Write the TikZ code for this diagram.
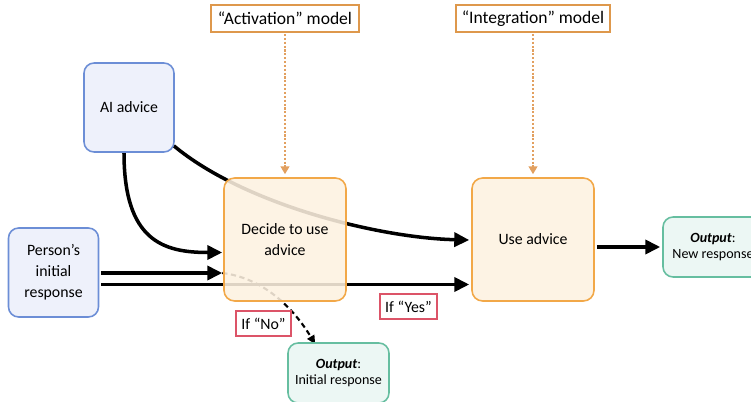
\documentclass[tikz,border=0pt]{standalone}
\usepackage{fontspec}
\setmainfont{Carlito}
\usetikzlibrary{arrows.meta,calc}
\pgfdeclarelayer{bg}
\pgfsetlayers{bg,main}

\definecolor{inblue}{RGB}{108,142,214}
\definecolor{infill}{RGB}{238,241,251}
\definecolor{steporange}{RGB}{242,168,72}
\definecolor{stepfill}{RGB}{253,241,224}
\definecolor{outteal}{RGB}{102,190,160}
\definecolor{outfill}{RGB}{236,247,244}
\definecolor{modelorange}{RGB}{222,152,76}
\definecolor{hintorange}{RGB}{226,160,96}
\definecolor{ifred}{RGB}{220,84,104}

\tikzset{
	inbox/.style={draw=inblue, fill=infill, line width=0.9pt, rounded corners=5.7pt, minimum width=1.8cm, minimum height=1.78cm, inner sep=0pt, align=center, font=\fontsize{9}{12}\selectfont},
	stepbox/.style={draw=steporange, fill=stepfill, fill opacity=0.88, text opacity=1, line width=0.9pt, rounded corners=6pt, minimum width=2.44cm, minimum height=2.46cm, inner sep=0pt, align=center, font=\fontsize{9}{12}\selectfont},
	outbox/.style={draw=outteal, fill=outfill, line width=0.9pt, rounded corners=5.7pt, minimum width=2cm, minimum height=1.2cm, inner sep=0pt, align=center, font=\fontsize{8}{9.5}\selectfont},
	modelbox/.style={draw=modelorange, fill=white, line width=1.1pt, minimum height=0.54cm, inner sep=0pt, font=\fontsize{10}{12}\selectfont},
	ifbox/.style={draw=ifred, fill=white, line width=1.1pt, minimum height=0.5cm, inner sep=0pt, font=\fontsize{9}{11}\selectfont},
	flow/.style={line width=2pt, -{Triangle[length=8.5pt,width=8pt]}},
	hint/.style={draw=hintorange, line width=1pt, dash pattern=on 1.2pt off 1pt, -{Triangle[length=4.5pt,width=5pt]}},
	nopath/.style={line width=1.2pt, densely dashed, -{Triangle[length=5pt,width=4.5pt]}}
}

\begin{document}
\begin{tikzpicture}[x=0.02cm, y=-0.02cm]
			\useasboundingbox (0,0) rectangle (751,402);
			\node[inbox] (ai) at (129,107.5) {AI advice};
			\node[inbox] (person) at (53.5,272.5) {Person’s\\initial\\response};
			\node[stepbox] (decide) at (285,239.5) {Decide to use\\advice};
			\node[stepbox] (use) at (533,239.5) {Use advice};
			\node[outbox] (outnew) at (713,247) {\textbf{\textit{Output}}:\\New response};
			\node[outbox, minimum width=2.02cm] (outinit) at (338.5,373) {\textbf{\textit{Output}}:\\Initial response};
			\node[modelbox, minimum width=2.96cm] (actmodel) at (285,18.5) {“Activation” model};
			\node[modelbox, minimum width=3.08cm] (intmodel) at (533,18.5) {“Integration” model};
			\node[ifbox, minimum width=1.1cm] (ifno) at (263.5,323.5) {If “No”};
			\node[ifbox, minimum width=1.14cm] (ifyes) at (408.5,306.5) {If “Yes”};
			\coordinate (inA) at ($(decide.west)+(-1,33.5)$);
			\coordinate (inB) at ($(use.west)+(-2,45)$);
			\begin{pgfonlayer}{bg}
				\draw[hint] ($(actmodel.south)+(0,1)$) -- ($(decide.north)+(0,-3)$);
				\draw[hint] ($(intmodel.south)+(0,1)$) -- ($(use.north)+(0,-3)$);
				\draw[flow] ($(ai.south)+(-5,0)$) .. controls ($(ai.south)+(-5,88)$) and ($(decide.west)+(-60,13)$) .. ($(decide.west)+(-1,13)$);
				\draw[flow] ($(ai.south east)+(-1,-7)$) .. controls (245,205) and (380,238) .. ($(use.west)+(-2,0.5)$);
				\draw[flow] ($(person.east |- inA)+(2,0)$) -- (inA);
				\draw[flow] ($(person.east |- inB)+(2,0)$) -- (inB);
				\draw[flow] ($(use.east |- outnew.west)+(2,0)$) -- ($(outnew.west)+(-2,0)$);
				\draw[nopath] (inA) .. controls ($(inA)+(42,5)$) and ($(outinit.north west)+(7,-33)$) .. ($(outinit.north west)+(28,2)$);
			\end{pgfonlayer}
		\end{tikzpicture}
\end{document}
